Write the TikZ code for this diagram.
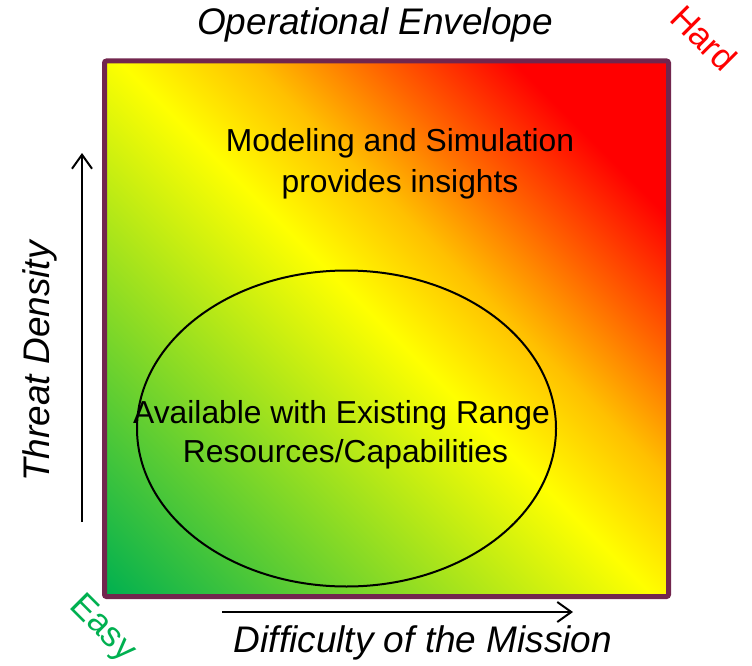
\documentclass[tikz,border=0pt]{standalone}
\usepackage{fontspec}
\setmainfont{Liberation Sans}
\usetikzlibrary{arrows.meta}
\definecolor{envgreen}{RGB}{0,176,80}
\definecolor{envyellow}{RGB}{255,255,0}
\definecolor{envorangeA}{RGB}{255,192,0}
\definecolor{envorangeB}{RGB}{255,100,0}
\definecolor{envred}{RGB}{255,0,0}
\definecolor{envborder}{RGB}{114,38,78}
\pgfdeclarehorizontalshading{envshade}{100bp}{%
  color(0bp)=(envgreen); color(14.64bp)=(envgreen);
  color(50bp)=(envyellow); color(58.5bp)=(envorangeA);
  color(66.5bp)=(envorangeB); color(75.5bp)=(envred);
  color(100bp)=(envred)}
\tikzset{
  axislabel/.style={font=\fontsize{37}{40}\selectfont\itshape, inner sep=0pt},
  bodytext/.style={font=\fontsize{31.8}{38}\selectfont, inner sep=0pt},
  cornerlabel/.style={font=\fontsize{35}{40}\selectfont, inner sep=0pt, rotate=-45},
  axisarrow/.style={draw=black, line width=2pt, -{Straight Barb[length=14pt,width=20pt,line width=2pt]}},
}
\begin{document}
\begin{tikzpicture}[x=1pt,y=-1pt]
\useasboundingbox (0,0) rectangle (752,666);
% envelope square
\shade[shading=envshade, shading angle=45] (104.5,61) rectangle (668.5,596.5);
\draw[envborder, line width=5pt, rounded corners=2pt] (104.5,61) rectangle (668.5,596.5);
% ellipse
\draw[black, line width=2pt] (346.5,428.5) ellipse [x radius=209.5, y radius=158];
% texts
\node[axislabel, anchor=base] (title) at (375,35) {Operational Envelope};
\node[cornerlabel, text=envred] (hard) at (704,38) {Hard};
\node[cornerlabel, text=envgreen] (easy) at (102,629) {Easy};
\node[bodytext, anchor=base] (ms1) at (400,152) {Modeling and Simulation};
\node[bodytext, anchor=base] (ms2) at (400,192) {provides insights};
\node[bodytext, anchor=base] (av1) at (341.5,423) {Available with Existing Range};
\node[bodytext, anchor=base] (av2) at (345.5,462) {Resources/Capabilities};
\node[axislabel, anchor=base] (xlab) at (423,652) {Difficulty of the Mission};
\node[axislabel, rotate=90] (ylab) at (39.5,361.5) {Threat Density};
% axis arrows
\coordinate (ya) at (82,522);
\coordinate (yb) at (82,153);
\coordinate (xa) at (222,612);
\coordinate (xb) at (573,612);
\draw[axisarrow] (ya) -- (yb);
\draw[axisarrow] (xa) -- (xb);
\end{tikzpicture}
\end{document}
